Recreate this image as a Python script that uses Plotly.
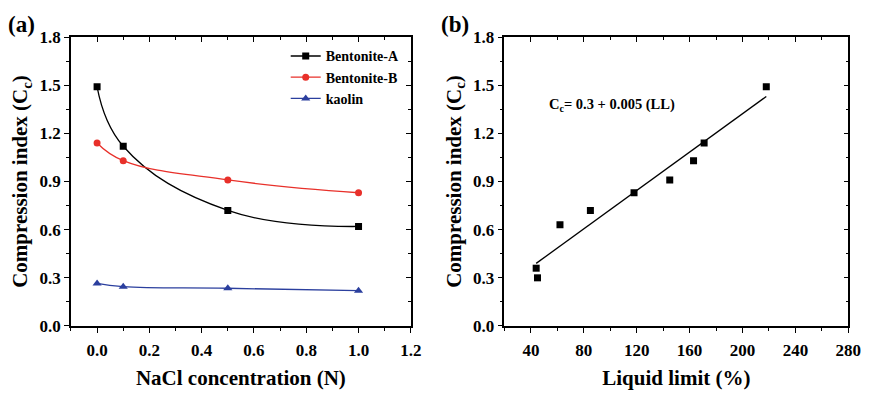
import plotly.graph_objects as go

# ---- data ----
nacl = [0.0, 0.1, 0.5, 1.0]
bent_a = [1.49, 1.12, 0.72, 0.62]
bent_b = [1.14, 1.03, 0.91, 0.83]
kaolin = [0.265, 0.245, 0.235, 0.22]

ll = [44, 45, 62, 85, 118, 145, 163, 171, 218]
cc = [0.36, 0.30, 0.63, 0.72, 0.83, 0.91, 1.03, 1.14, 1.49]
fit_x = [44, 218]
fit_y = [0.39, 1.43]

FONT = "Liberation Serif"
W, H = 880, 395

def px(x):
    return x / W

def py(y):
    return (H - y) / H

def b(t):
    return "<b>" + t + "</b>"

ydom = [py(333), py(29.5)]
xa_dom = [px(72), px(417)]
xb_dom = [px(512), px(861)]

fig = go.Figure()
fig.add_trace(go.Scatter(x=nacl, y=bent_a, name=b("Bentonite-A"), mode="lines+markers",
                         line=dict(color="black", width=1.3, shape="spline", smoothing=1.2),
                         marker=dict(symbol="square", size=7, color="black"),
                         xaxis="x", yaxis="y"))
fig.add_trace(go.Scatter(x=nacl, y=bent_b, name=b("Bentonite-B"), mode="lines+markers",
                         line=dict(color="#e8302a", width=1.3, shape="spline", smoothing=1.2),
                         marker=dict(symbol="circle", size=7, color="#e8302a"),
                         xaxis="x", yaxis="y"))
fig.add_trace(go.Scatter(x=nacl, y=kaolin, name=b("kaolin"), mode="lines+markers",
                         line=dict(color="#2b3f9e", width=1.3, shape="spline", smoothing=1.2),
                         marker=dict(symbol="triangle-up", size=8, color="#2b3f9e"),
                         xaxis="x", yaxis="y"))
fig.add_trace(go.Scatter(x=ll, y=cc, mode="markers", showlegend=False,
                         marker=dict(symbol="square", size=7, color="black"),
                         xaxis="x2", yaxis="y2"))
fig.add_trace(go.Scatter(x=fit_x, y=fit_y, mode="lines", showlegend=False,
                         line=dict(color="black", width=1.3),
                         xaxis="x2", yaxis="y2"))
# invisible traces so that the mirrored frame axes get drawn
fig.add_trace(go.Scatter(x=[nacl[0]], y=[kaolin[0]], mode="markers", showlegend=False,
                         hoverinfo="skip", marker=dict(opacity=0), xaxis="x3", yaxis="y3"))
fig.add_trace(go.Scatter(x=[ll[0]], y=[cc[0]], mode="markers", showlegend=False,
                         hoverinfo="skip", marker=dict(opacity=0), xaxis="x4", yaxis="y4"))

tickfont = dict(family=FONT, size=17, color="black")
titlefont = dict(family=FONT, size=21, color="black")

def base_axis(**kw):
    d = dict(showgrid=False, zeroline=False, showline=True, linecolor="black", linewidth=1.5,
             ticks="outside", ticklen=5, tickwidth=1.3, tickcolor="black", tickfont=tickfont,
             tickprefix="<b>", ticksuffix="</b>")
    d.update(kw)
    return d

layout = dict(
    width=W, height=H, margin=dict(l=0, r=0, t=0, b=0),
    plot_bgcolor="white", paper_bgcolor="white",
    xaxis=base_axis(domain=xa_dom, anchor="y", range=[-0.1, 1.2], tick0=0, dtick=0.2,
                    tickformat=".1f", ticklabelstandoff=3,
                    minor=dict(dtick=0.1, tick0=0, ticks="outside", ticklen=3, tickcolor="black"),
                    title=dict(text=b("NaCl concentration (N)"), font=titlefont, standoff=11)),
    yaxis=base_axis(domain=ydom, anchor="x", range=[0, 1.8], tick0=0, dtick=0.3, tickformat=".1f",
                    minor=dict(dtick=0.15, tick0=0, ticks="outside", ticklen=3, tickcolor="black"),
                    title=dict(text=b("Compression index (C<sub>c</sub>)"), font=titlefont, standoff=6)),
    xaxis2=base_axis(domain=xb_dom, anchor="y2", range=[20, 280], tick0=40, dtick=40,
                     ticklabelstandoff=3,
                     minor=dict(dtick=20, tick0=40, ticks="outside", ticklen=3, tickcolor="black"),
                     title=dict(text=b("Liquid limit (%)"), font=titlefont, standoff=11)),
    yaxis2=base_axis(domain=ydom, anchor="x2", range=[0, 1.8], tick0=0, dtick=0.3, tickformat=".1f",
                     minor=dict(dtick=0.15, tick0=0, ticks="outside", ticklen=3, tickcolor="black"),
                     title=dict(text=b("Compression index (C<sub>c</sub>)"), font=titlefont, standoff=6)),
    xaxis3=base_axis(domain=xa_dom, anchor="y", overlaying="x", side="top", range=[-0.1, 1.2],
                     tick0=0, dtick=0.2, ticks="inside", showticklabels=False,
                     minor=dict(dtick=0.1, tick0=0, ticks="inside", ticklen=3, tickcolor="black")),
    yaxis3=base_axis(domain=ydom, anchor="x", overlaying="y", side="right", range=[0, 1.8],
                     tick0=0, dtick=0.3, ticks="inside", showticklabels=False,
                     minor=dict(dtick=0.15, tick0=0, ticks="inside", ticklen=3, tickcolor="black")),
    xaxis4=base_axis(domain=xb_dom, anchor="y2", overlaying="x2", side="top", range=[20, 280],
                     tick0=40, dtick=40, ticks="inside", showticklabels=False,
                     minor=dict(dtick=20, tick0=40, ticks="inside", ticklen=3, tickcolor="black")),
    yaxis4=base_axis(domain=ydom, anchor="x2", overlaying="y2", side="right", range=[0, 1.8],
                     tick0=0, dtick=0.3, ticks="inside", showticklabels=False,
                     minor=dict(dtick=0.15, tick0=0, ticks="inside", ticklen=3, tickcolor="black")),
    legend=dict(x=px(290), y=py(33), xanchor="left", yanchor="top", bgcolor="rgba(0,0,0,0)",
                font=dict(family=FONT, size=14, color="black"),
                tracegroupgap=2),
    showlegend=True,
)
fig.update_layout(**layout)

fig.add_annotation(text=b("(a)"), x=px(6), y=py(16), xref="paper", yref="paper", xanchor="left",
                   yanchor="middle", showarrow=False,
                   font=dict(family=FONT, size=23, color="black"))
fig.add_annotation(text=b("(b)"), x=px(446), y=py(16), xref="paper", yref="paper", xanchor="left",
                   yanchor="middle", showarrow=False,
                   font=dict(family=FONT, size=23, color="black"))
fig.add_annotation(text=b("C<sub>c</sub>= 0.3 + 0.005 (LL)"), x=px(555), y=py(101), xref="paper",
                   yref="paper", xanchor="left", yanchor="middle", showarrow=False,
                   font=dict(family=FONT, size=14.5, color="black"))

fig.write_html("out.html")
